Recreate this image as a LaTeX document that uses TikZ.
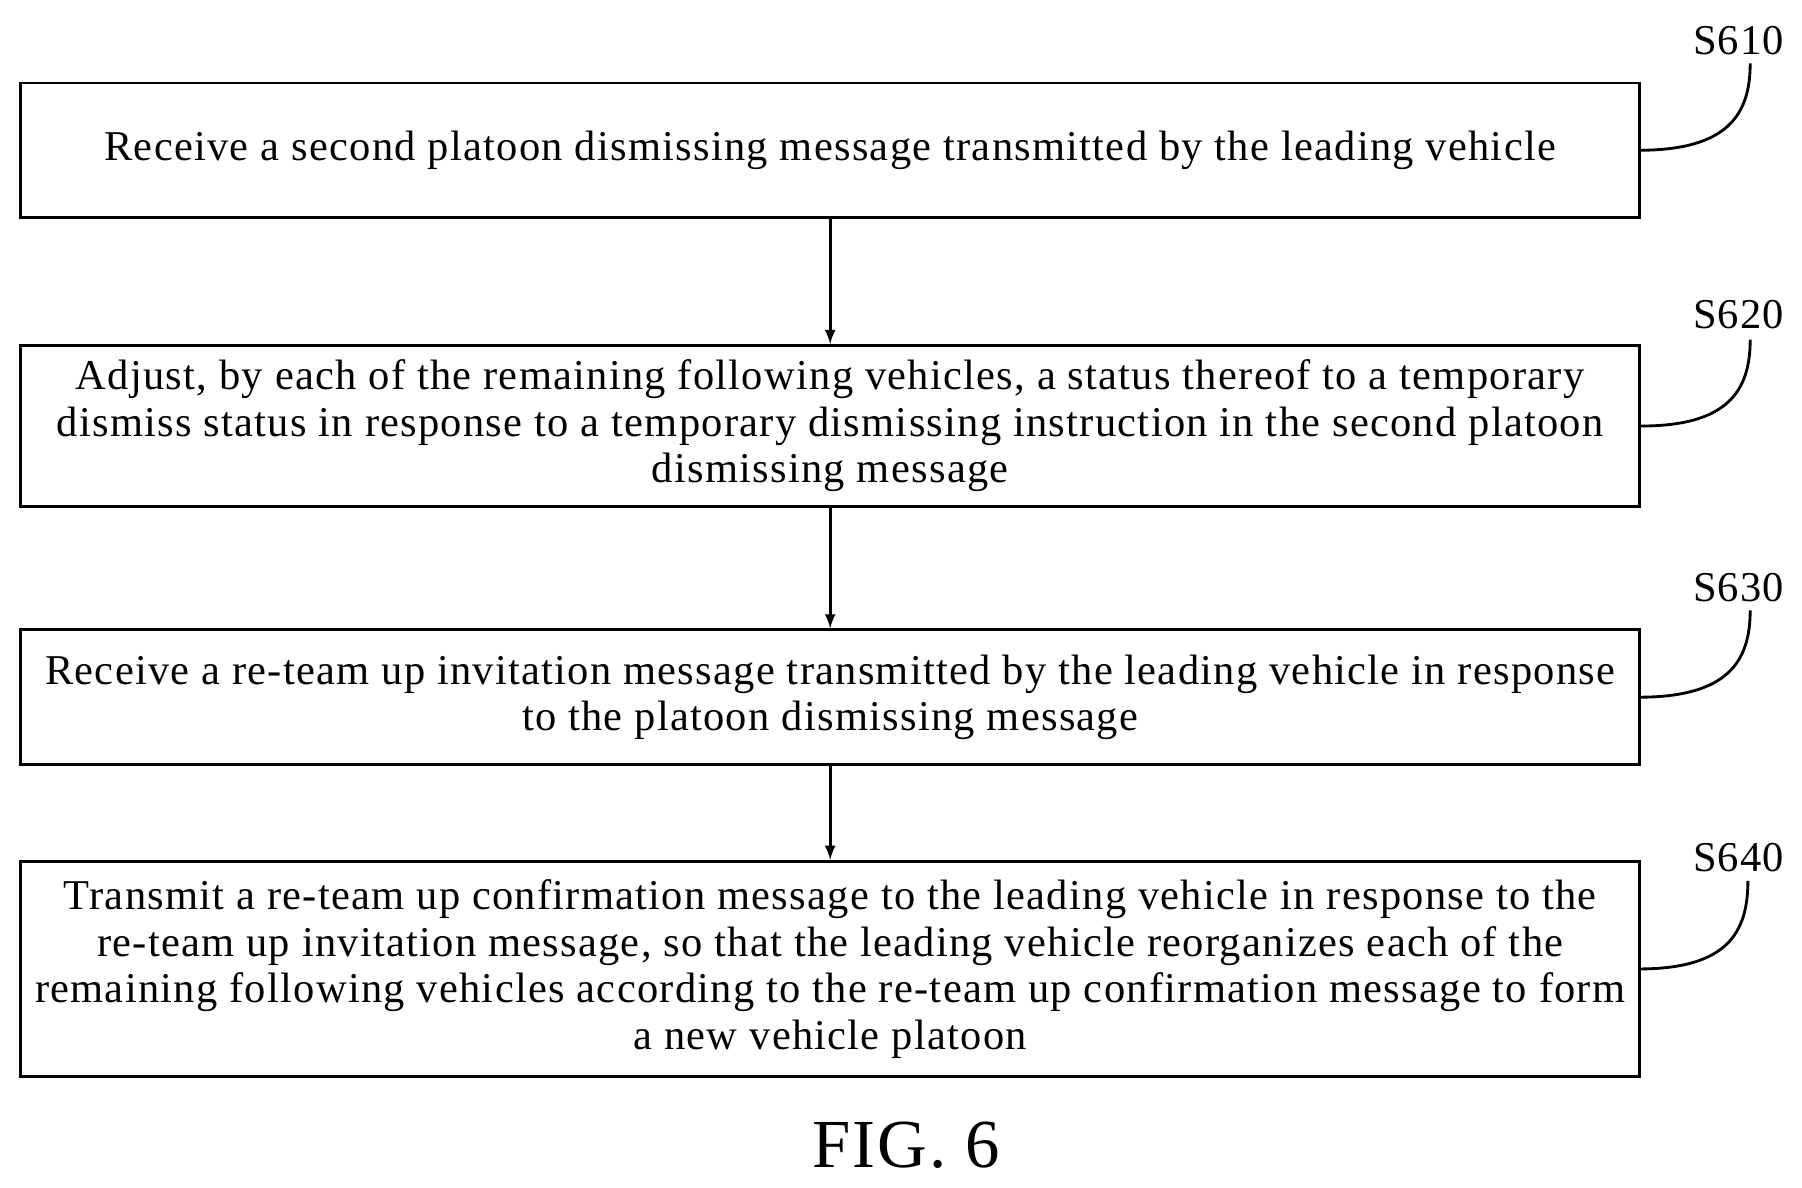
\documentclass[tikz,border=0pt]{standalone}
\usepackage{fontspec}
\setmainfont{Liberation Serif}[LetterSpace=3]
\usetikzlibrary{positioning}
\begin{document}
\begin{tikzpicture}[x=0.02cm, y=-0.02cm, >=latex,
  stepbox/.style={draw, line width=1.4pt, rectangle, minimum width=28.12cm, align=center,
    font=\fontsize{21}{23}\selectfont, inner sep=0pt},
  tag/.style={font=\fontsize{21}{23}\selectfont}]
  \useasboundingbox (0,0) rectangle (1565,1031);
  \node [stepbox, minimum height=2.34cm] (s610) at (721,130.5) {Receive a second platoon dismissing message transmitted by the leading vehicle};
  \node [stepbox, minimum height=2.8cm] (s620) at (721,370) {Adjust, by each of the remaining following vehicles, a status thereof to a temporary\\dismiss status in response to a temporary dismissing instruction in the second platoon\\dismissing message};
  \node [stepbox, minimum height=2.34cm] (s630) at (721,605.5) {Receive a re-team up invitation message transmitted by the leading vehicle in response\\to the platoon dismissing message};
  \node [stepbox, minimum height=3.74cm] (s640) at (721,841.5) {Transmit a re-team up confirmation message to the leading vehicle in response to the\\re-team up invitation message, so that the leading vehicle reorganizes each of the\\remaining following vehicles according to the re-team up confirmation message to form\\a new vehicle platoon};
  \draw [->, line width=1.4pt] (s610) -- (s620);
  \draw [->, line width=1.4pt] (s620) -- (s630);
  \draw [->, line width=1.4pt] (s630) -- (s640);
  % step tags
  \node [tag] (t610) at (1510,35) {S610};
  \node [tag] (t620) at (1510,273) {S620};
  \node [tag] (t630) at (1510,510) {S630};
  \node [tag] (t640) at (1510,745) {S640};
  \draw [line width=1.4pt] (s610.east) .. controls (1500,130) and (1520,100) .. (1520,55);
  \draw [line width=1.4pt] (s620.east) .. controls (1500,370) and (1520,340) .. (1520,295);
  \draw [line width=1.4pt] (s630.east) .. controls (1500,605) and (1520,575) .. (1520,530);
  \draw [line width=1.4pt] (s640.east) .. controls (1500,841) and (1518,810) .. (1518,765);
  \node [font=\fontsize{34}{40}\selectfont] (fig) at (787,995) {FIG. 6};
\end{tikzpicture}
\end{document}
